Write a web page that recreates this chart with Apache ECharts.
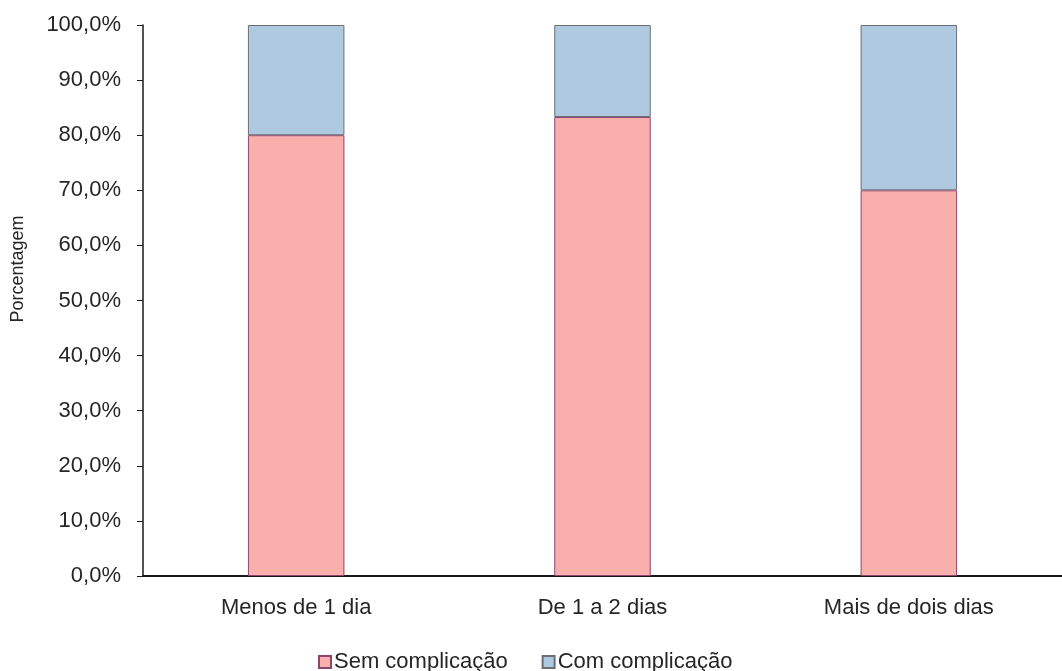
<!DOCTYPE html>
<html>
<head>
<meta charset="utf-8">
<script src="https://cdn.jsdelivr.net/npm/echarts@6/dist/echarts.min.js"></script>
<style>
  html, body { margin: 0; padding: 0; background: #fff; }
  #chart { width: 1062px; height: 671px; }
</style>
</head>
<body>
<div id="chart"></div>
<script>
// Percentage of cases with and without complications, by duration
const categories = ['Menos de 1 dia', 'De 1 a 2 dias', 'Mais de dois dias'];
const semComplicacao = [80.0, 83.3, 70.0];
const comComplicacao = [20.0, 16.7, 30.0];
const seriesNames = ['Sem complicação', 'Com complicação'];

const font = '"Liberation Sans", Arial, sans-serif';
const textColor = '#262626';
const chart = echarts.init(document.getElementById('chart'), null, { renderer: 'canvas' });

chart.setOption({
  backgroundColor: '#ffffff',
  animation: false,
  textStyle: { fontFamily: font },
  grid: { left: 143, top: 25, bottom: 95, width: 923, containLabel: false },
  legend: {
    top: 646,
    left: 313,
    itemWidth: 12,
    itemHeight: 12,
    itemGap: 34,
    icon: 'rect',
    textStyle: { fontFamily: font, fontSize: 22, color: textColor, padding: [0, 0, 0, -2] },
    data: seriesNames
  },
  xAxis: {
    type: 'category',
    data: categories,
    axisLine: { lineStyle: { color: '#1a1a1a', width: 2 } },
    axisTick: { show: false },
    axisLabel: { fontFamily: font, fontSize: 22, color: textColor, margin: 21 }
  },
  yAxis: {
    type: 'value',
    min: 0,
    max: 100,
    interval: 10,
    splitLine: { show: false },
    axisLine: { show: true, lineStyle: { color: '#1a1a1a', width: 1.5 } },
    axisTick: { show: true, length: 6, lineStyle: { color: '#1a1a1a' } },
    axisLabel: {
      fontFamily: font, fontSize: 22, color: textColor, margin: 22,
      formatter: v => v.toFixed(1).replace('.', ',') + '%'
    }
  },
  graphic: [{
    type: 'text',
    x: 18,
    y: 269,
    rotation: Math.PI / 2,
    style: {
      text: 'Porcentagem',
      font: '18px ' + font,
      fill: textColor,
      align: 'center',
      verticalAlign: 'middle'
    }
  }],
  series: [
    {
      name: seriesNames[0],
      type: 'bar',
      stack: 'total',
      barWidth: '31.5%',
      data: semComplicacao,
      itemStyle: { color: '#F9B0AD', borderColor: '#8E4470', borderWidth: 1 }
    },
    {
      name: seriesNames[1],
      type: 'bar',
      stack: 'total',
      barWidth: '31.5%',
      data: comComplicacao,
      itemStyle: { color: '#AFCAE0', borderColor: '#6B6E75', borderWidth: 1 }
    }
  ]
});
</script>
</body>
</html>
